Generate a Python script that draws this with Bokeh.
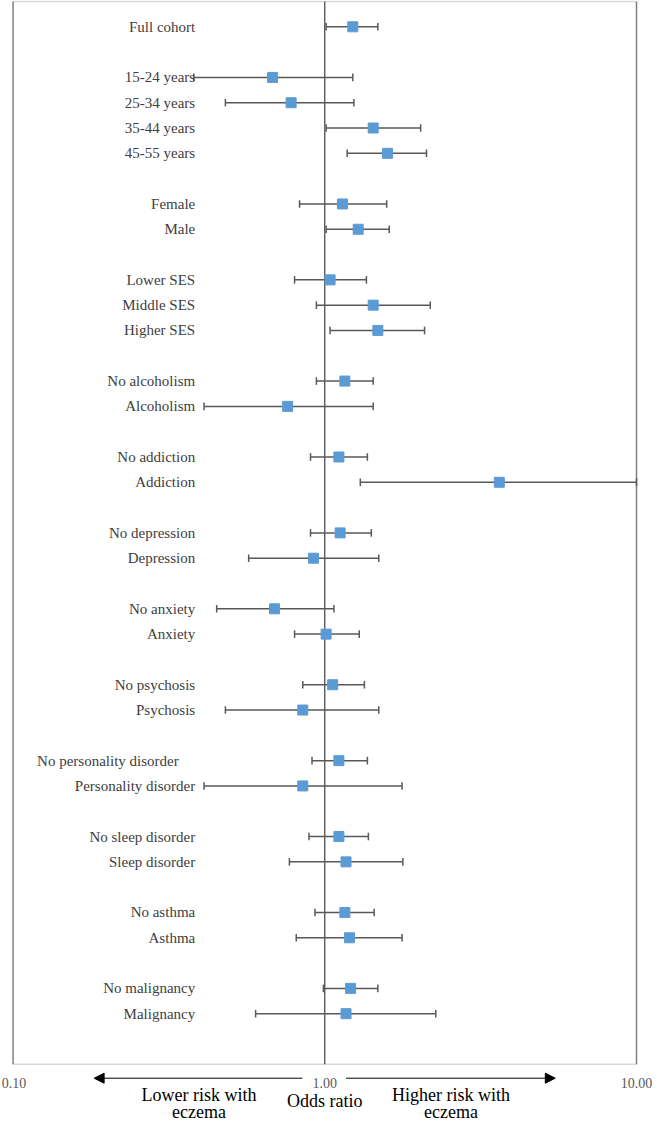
from bokeh.plotting import figure
from bokeh.models import Range1d, Label, Arrow, NormalHead, ColumnDataSource
from bokeh.core.properties import value
from bokeh.embed import file_html
from bokeh.resources import INLINE

# ---------------- data ----------------
groups = [
    ["Full cohort"],
    ["15-24 years", "25-34 years", "35-44 years", "45-55 years"],
    ["Female", "Male"],
    ["Lower SES", "Middle SES", "Higher SES"],
    ["No alcoholism", "Alcoholism"],
    ["No addiction", "Addiction"],
    ["No depression", "Depression"],
    ["No anxiety", "Anxiety"],
    ["No psychosis", "Psychosis"],
    ["No personality disorder", "Personality disorder"],
    ["No sleep disorder", "Sleep disorder"],
    ["No asthma", "Asthma"],
    ["No malignancy", "Malignancy"],
]
odds_ratio = [1.23,
              0.68, 0.78, 1.43, 1.59,
              1.14, 1.28,
              1.04, 1.43, 1.48,
              1.16, 0.76,
              1.11, 3.63,
              1.12, 0.92,
              0.69, 1.01,
              1.06, 0.85,
              1.11, 0.85,
              1.11, 1.17,
              1.16, 1.20,
              1.21, 1.17]
ci_lower = [1.01,
            0.38, 0.48, 1.01, 1.18,
            0.83, 1.01,
            0.80, 0.94, 1.04,
            0.94, 0.41,
            0.90, 1.30,
            0.90, 0.57,
            0.45, 0.80,
            0.85, 0.48,
            0.91, 0.41,
            0.89, 0.77,
            0.93, 0.81,
            0.99, 0.60]
ci_upper = [1.48,
            1.23, 1.24, 2.03, 2.12,
            1.58, 1.61,
            1.36, 2.18, 2.09,
            1.43, 1.43,
            1.37, 10.0,
            1.41, 1.49,
            1.07, 1.29,
            1.34, 1.49,
            1.37, 1.77,
            1.38, 1.78,
            1.44, 1.77,
            1.48, 2.27]
tick_values = [0.1, 1.0, 10.0]
tick_labels = ["0.10", "1.00", "10.00"]
x_title = "Odds ratio"
left_note = ["Lower risk with", "eczema"]
right_note = ["Higher risk with", "eczema"]

# ---------------- layout of rows ----------------
labels, rows = [], []
r = 0
for g in groups:
    for lab in g:
        labels.append(lab)
        rows.append(r)
        r += 1
    r += 1
n_rows = rows[-1] + 2  # 41 -> plot box spans rows -1 .. 41

W, H = 653, 1123
BOX_TOP, BOX_BOTTOM = 1.0, 1063.8          # px of the box inside the canvas
PX = (BOX_BOTTOM - BOX_TOP) / (n_rows + 1)  # px per row
BOX_LEFT, BOX_RIGHT = 12.55, 636.0
DEC = (BOX_RIGHT - BOX_LEFT) / 2.0           # px per decade

x_lo = 10 ** (-1 - BOX_LEFT / DEC)
x_hi = 10 ** (-1 + (W - BOX_LEFT) / DEC)
y_top = -1 - BOX_TOP / PX
y_bot = n_rows + (H - BOX_BOTTOM) / PX

LABEL_X = 0.384
offsets = [-16.5 if lab == "No personality disorder" else 0 for lab in labels]

src = ColumnDataSource(dict(
    label=labels, row=rows, orr=odds_ratio, lo=ci_lower, hi=ci_upper,
    cap0=[y - 0.15 for y in rows], cap1=[y + 0.15 for y in rows], xoff=offsets,
))

p = figure(width=W, height=H, x_axis_type="log",
           x_range=Range1d(x_lo, x_hi), y_range=Range1d(y_bot, y_top),
           x_axis_location=None, y_axis_location=None,
           output_backend="svg", toolbar_location=None,
           min_border_left=0, min_border_right=0,
           min_border_top=0, min_border_bottom=0)
p.xgrid.visible = False
p.ygrid.visible = False
p.outline_line_color = None
p.background_fill_color = "white"
p.border_fill_color = "white"

x0, x1 = tick_values[0], tick_values[-1]
# plot box: light top/bottom, darker sides, reference line at OR = 1
p.segment(x0=[x0, x0], y0=[-1, n_rows], x1=[x1, x1], y1=[-1, n_rows],
          line_color="#d9d9d9", line_width=1.5)
p.segment(x0=[x0, x1], y0=[-1, -1], x1=[x0, x1], y1=[n_rows, n_rows],
          line_color="#808080", line_width=1.5)
p.segment(x0=[1.0], y0=[-1], x1=[1.0], y1=[n_rows], line_color="#404040", line_width=1.2)

# error bars
p.segment(x0="lo", y0="row", x1="hi", y1="row", source=src, line_color="#595959", line_width=1.5)
p.segment(x0="lo", y0="cap0", x1="lo", y1="cap1", source=src, line_color="#595959", line_width=1.5)
p.segment(x0="hi", y0="cap0", x1="hi", y1="cap1", source=src, line_color="#595959", line_width=1.5)

# point estimates
p.scatter(x="orr", y="row", source=src, marker="square", size=10,
          fill_color="#5b9bd5", line_color="#5b9bd5")

# category labels
p.text(x=LABEL_X, y="row", text="label", source=src, x_offset="xoff",
       text_align="right", text_baseline="middle",
       text_font=value("Liberation Serif"), text_font_size="15px", text_color="#404040")


def below(px):
    return n_rows + px / PX


# tick labels
for v, t in zip(tick_values, tick_labels):
    lab = Label(x=v, y=below(18.8), text=t, text_align="center", text_baseline="middle",
                x_offset=1 if v == tick_values[0] else 0,
                text_font="Liberation Serif", text_font_size="14px", text_color="#595959")
    p.add_layout(lab)

# arrows
ya = below(13.9)
p.add_layout(Arrow(end=NormalHead(size=10, fill_color="black", line_color="black"),
                   x_start=0.847, y_start=ya, x_end=0.182, y_end=ya,
                   line_color="black", line_width=1))
p.add_layout(Arrow(end=NormalHead(size=10, fill_color="black", line_color="black"),
                   x_start=1.17, y_start=ya, x_end=5.49, y_end=ya,
                   line_color="black", line_width=1))


def note(x, px, text):
    p.add_layout(Label(x=x, y=below(px), text=text, text_align="center", text_baseline="middle",
                       text_font="Liberation Serif", text_font_size="18px", text_color="black"))


note(0.395, 30.5, left_note[0])
note(0.395, 47.5, left_note[1])
note(1.0, 37.0, x_title)
note(2.54, 30.5, right_note[0])
note(2.54, 47.5, right_note[1])

open("out.html", "w").write(file_html(p, INLINE))
